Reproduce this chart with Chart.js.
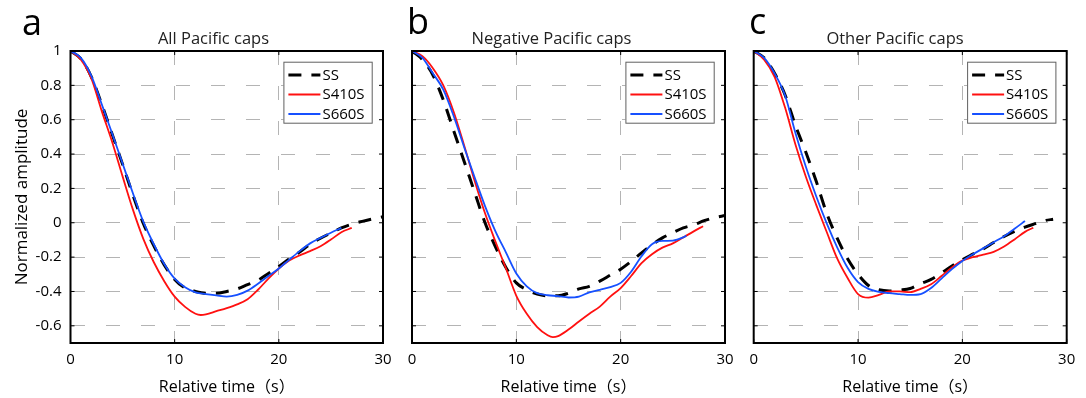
<!DOCTYPE html>
<html><head><meta charset="utf-8">
<script src="https://cdn.jsdelivr.net/npm/chart.js@4.4.1/dist/chart.umd.min.js"></script>
<style>
html,body{margin:0;padding:0;background:#fff;}
#wrap{position:relative;width:1086px;height:398px;overflow:hidden;background:#fff;font-family:"Open Sans","Noto Sans CJK SC",sans-serif;}
#wrap canvas{position:absolute;left:0;top:0;}
.lbl{position:absolute;font-size:36px;line-height:36px;color:#000;}
.ttl{position:absolute;font-size:16.5px;line-height:16px;color:#222;white-space:nowrap;transform:translateX(-50%);}
</style></head>
<body><div id="wrap">
<canvas id="ca" width="1086" height="398"></canvas>
<canvas id="cb" width="1086" height="398"></canvas>
<canvas id="cc" width="1086" height="398"></canvas>
<div class="lbl" style="left:22px;top:4px;">a</div>
<div class="lbl" style="left:407px;top:3px;">b</div>
<div class="lbl" style="left:749px;top:3px;">c</div>
<div class="ttl" id="t0" style="left:213.5px;top:29.5px;"></div>
<div class="ttl" id="t1" style="left:551.5px;top:29.5px;"></div>
<div class="ttl" id="t2" style="left:895px;top:29.5px;"></div>
</div>
<script>
// ---- tick labels / categories ----
const xTicks = [0, 10, 20, 30];
const yTicks = [-0.6, -0.4, -0.2, 0, 0.2, 0.4, 0.6, 0.8, 1];
const seriesNames = ['SS', 'S410S', 'S660S'];
const panelTitles = ['All Pacific caps', 'Negative Pacific caps', 'Other Pacific caps'];
const xTitle = 'Relative time（s）';
const yTitle = 'Normalized amplitude';

// ---- panel a: All Pacific caps ----
const tSS_a = [0,1,2,3,4,5,6,7,8,9,10,11,12,13,14,15,16,17,18,19,20,21,22,23,24,25,26,27,28,29,30];
const vSS_a = [1.0,0.955,0.85,0.69,0.515,0.34,0.16,-0.005,-0.135,-0.245,-0.33,-0.38,-0.40,-0.41,-0.41,-0.40,-0.385,-0.36,-0.335,-0.295,-0.255,-0.21,-0.17,-0.125,-0.09,-0.06,-0.03,-0.008,0.008,0.022,0.035];
const t410_a = [0,1,2,3,4,5,6,7,8,9,10,11,12,12.5,13,14,15,16,17,18,19,20,21,22,23,24,25,26,27];
const v410_a = [1.0,0.95,0.84,0.65,0.47,0.27,0.075,-0.095,-0.23,-0.34,-0.43,-0.49,-0.53,-0.537,-0.533,-0.515,-0.497,-0.475,-0.445,-0.39,-0.325,-0.266,-0.22,-0.19,-0.165,-0.137,-0.098,-0.055,-0.03];
const t660_a = [0,1,2,3,4,5,6,7,8,9,10,11,12,13,14,15,16,17,18,19,20,21,22,23,24,25,26];
const v660_a = [1.0,0.96,0.855,0.69,0.52,0.345,0.17,0.005,-0.125,-0.24,-0.325,-0.375,-0.405,-0.415,-0.423,-0.43,-0.42,-0.395,-0.355,-0.31,-0.266,-0.215,-0.165,-0.12,-0.088,-0.058,-0.03];

// ---- panel b: Negative Pacific caps ----
const tSS_b = [0,1,2,3,4,5,6,7,8,9,10,11,12,13,14,15,16,17,18,19,20,21,22,23,24,25,26,27,28,29,30];
const vSS_b = [1.0,0.95,0.86,0.715,0.535,0.357,0.178,0.0,-0.14,-0.26,-0.35,-0.39,-0.415,-0.425,-0.425,-0.41,-0.385,-0.37,-0.34,-0.305,-0.27,-0.225,-0.175,-0.128,-0.088,-0.058,-0.03,-0.012,0.012,0.03,0.042];
const t410_b = [0,1,2,3,4,5,6,7,8,9,10,11,12,13,13.5,14,15,16,17,18,19,20,21,22,23,24,25,26,27,27.9];
const v410_b = [1.0,0.97,0.9,0.8,0.645,0.45,0.245,0.055,-0.11,-0.265,-0.425,-0.53,-0.607,-0.655,-0.666,-0.66,-0.622,-0.575,-0.53,-0.488,-0.43,-0.38,-0.31,-0.235,-0.183,-0.145,-0.12,-0.085,-0.05,-0.02];
const t660_b = [0,1,2,3,4,5,6,7,8,9,10,11,12,13,14,15,16,17,18,19,20,21,22,23,24,25,26,26.3];
const v660_b = [1.0,0.96,0.87,0.775,0.62,0.44,0.265,0.097,-0.05,-0.172,-0.295,-0.37,-0.41,-0.422,-0.427,-0.435,-0.43,-0.405,-0.39,-0.375,-0.35,-0.285,-0.195,-0.125,-0.106,-0.104,-0.085,-0.075];

// ---- panel c: Other Pacific caps ----
const tSS_c = [0,1,2,3,4,5,6,7,8,9,10,11,12,13,14,15,16,17,18,19,20,21,22,23,24,25,26,27,28,28.7];
const vSS_c = [1.0,0.96,0.87,0.745,0.567,0.41,0.24,0.055,-0.09,-0.21,-0.3,-0.365,-0.39,-0.397,-0.392,-0.383,-0.355,-0.33,-0.292,-0.252,-0.215,-0.183,-0.152,-0.115,-0.08,-0.05,-0.025,-0.005,0.014,0.02];
const t410_c = [0,1,2,3,4,5,6,7,8,9,10,11,12,13,14,15,16,17,18,19,20,21,22,23,24,25,26,26.8];
const v410_c = [1.0,0.95,0.85,0.672,0.456,0.268,0.103,-0.054,-0.208,-0.322,-0.415,-0.436,-0.42,-0.40,-0.40,-0.404,-0.385,-0.358,-0.31,-0.26,-0.22,-0.2,-0.185,-0.169,-0.138,-0.097,-0.053,-0.029];
const t660_c = [0,1,2,3,4,5,6,7,8,9,10,11,12,13,14,15,16,17,18,19,20,21,22,23,24,25,26];
const v660_c = [1.0,0.96,0.87,0.742,0.523,0.326,0.153,-0.004,-0.143,-0.262,-0.345,-0.385,-0.402,-0.41,-0.415,-0.42,-0.415,-0.38,-0.325,-0.27,-0.222,-0.183,-0.149,-0.113,-0.078,-0.035,0.01];

// ---- styles / layout ----
const FONT = '"Open Sans","Noto Sans CJK SC",sans-serif';
const lineColors = ['#000000', '#ff1010', '#1650ff'];
const lineWidths = [3, 1.8, 1.8];
const lineDashes = [[13, 10], [], []];
const gridColor = '#b4b4b4';
const geom = [{left:70.5, right:383}, {left:412, right:725}, {left:753.7, right:1066.7}];

const framePlugin = {
  id: 'frame',
  afterDraw(chart) {
    const {ctx, chartArea: a, scales: {x, y}} = chart;
    ctx.save();
    ctx.strokeStyle = '#000';
    ctx.lineWidth = 1;
    ctx.setLineDash([]);
    ctx.beginPath();
    x.ticks.forEach(t => {
      const px = x.getPixelForValue(t.value);
      ctx.moveTo(px, a.bottom); ctx.lineTo(px, a.bottom - 4);
      ctx.moveTo(px, a.top); ctx.lineTo(px, a.top + 4);
    });
    y.ticks.forEach(t => {
      const py = y.getPixelForValue(t.value);
      ctx.moveTo(a.left, py); ctx.lineTo(a.left + 4, py);
      ctx.moveTo(a.right, py); ctx.lineTo(a.right - 4, py);
    });
    ctx.stroke();
    ctx.lineWidth = 2;
    ctx.strokeRect(a.left, a.top, a.right - a.left, a.bottom - a.top);
    // legend box
    const bw = 88.3, bh = 61;
    const bx = a.right - 11.3 - bw, by = a.top + 10.7;
    ctx.fillStyle = '#fff';
    ctx.fillRect(bx, by, bw, bh);
    ctx.lineWidth = 1;
    ctx.strokeStyle = '#606060';
    ctx.strokeRect(bx + 0.5, by + 0.5, bw, bh);
    ctx.font = '15px ' + FONT;
    ctx.textBaseline = 'middle';
    ctx.textAlign = 'left';
    chart.data.datasets.forEach((ds, i) => {
      const ly = by + 13.3 + i * 19.5;
      ctx.beginPath();
      ctx.setLineDash(ds.borderDash || []);
      ctx.strokeStyle = ds.borderColor;
      ctx.lineWidth = ds.borderWidth;
      ctx.moveTo(bx + 5, ly); ctx.lineTo(bx + 37, ly);
      ctx.stroke();
      ctx.setLineDash([]);
      ctx.fillStyle = '#000';
      ctx.fillText(ds.label, bx + 39, ly + 0.5);
    });
    ctx.restore();
  }
};

function makePanel(id, idx, series) {
  const g = geom[idx];
  const yW = idx === 0 ? 70.5 : 20;
  return new Chart(document.getElementById(id), {
    type: 'line',
    data: {
      datasets: series.map((s, i) => ({
        label: seriesNames[i],
        data: s[0].map((t, k) => ({x: t, y: s[1][k]})),
        borderColor: lineColors[i],
        borderWidth: lineWidths[i],
        borderDash: lineDashes[i],
        pointRadius: 0,
        fill: false,
        cubicInterpolationMode: 'monotone',
        order: 3 - i
      }))
    },
    options: {
      responsive: false,
      animation: false,
      events: [],
      layout: {padding: {left: g.left - yW, right: 1086 - g.right, top: 51, bottom: 0}},
      plugins: {legend: {display: false}, tooltip: {enabled: false}},
      scales: {
        x: {
          type: 'linear', min: 0, max: 30,
          afterBuildTicks: s => { s.ticks = xTicks.map(v => ({value: v})); },
          afterFit: s => { s.height = 55; },
          grid: {color: gridColor, lineWidth: 1, drawTicks: false},
          border: {display: false, dash: [14, 21]},
          ticks: {font: {family: FONT, size: 15}, color: '#000', padding: 8, maxRotation: 0, autoSkip: false, callback: v => String(v)},
          title: {display: true, text: xTitle, font: {family: FONT, size: 16}, color: '#000', padding: {top: 0, bottom: 1}}
        },
        y: {
          type: 'linear', min: -0.7, max: 1,
          afterBuildTicks: s => { s.ticks = yTicks.map(v => ({value: v})); },
          afterFit: s => { s.width = yW; },
          grid: {color: gridColor, lineWidth: 1, drawTicks: false},
          border: {display: false, dash: [14, 21]},
          ticks: {display: idx === 0, font: {family: FONT, size: 15}, color: '#000', padding: 9, callback: v => String(v)},
          title: {display: idx === 0, text: yTitle, font: {family: FONT, size: 17}, color: '#000', padding: {top: 12, bottom: 0}}
        }
      }
    },
    plugins: [framePlugin]
  });
}

panelTitles.forEach((t, i) => { document.getElementById('t' + i).textContent = t; });

makePanel('ca', 0, [[tSS_a, vSS_a], [t410_a, v410_a], [t660_a, v660_a]]);
makePanel('cb', 1, [[tSS_b, vSS_b], [t410_b, v410_b], [t660_b, v660_b]]);
makePanel('cc', 2, [[tSS_c, vSS_c], [t410_c, v410_c], [t660_c, v660_c]]);
</script>
</body></html>
